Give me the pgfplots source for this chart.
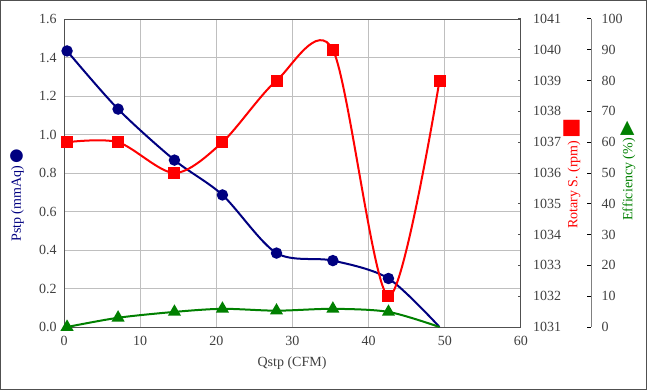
\documentclass[border=0pt]{standalone}
\usepackage{fontspec}
\setmainfont{Liberation Serif}
\newfontfamily\sym{DejaVu Sans}
\usepackage{pgfplots}
\pgfplotsset{compat=1.18}
\definecolor{navy}{RGB}{0,0,128}
\definecolor{myred}{RGB}{255,0,0}
\definecolor{mygreen}{RGB}{0,128,0}
\definecolor{txt}{RGB}{64,64,64}
\definecolor{gridc}{RGB}{191,191,191}
\definecolor{axc}{RGB}{80,80,80}
\definecolor{axc2}{RGB}{128,128,128}
\pgfplotsset{
  base/.style={
    at={(48pt,47.25pt)}, anchor=south west, scale only axis,
    height=231pt,
    tick label style={font=\fontsize{10.5}{12}\selectfont, text=txt},
    /pgf/number format/assume math mode=true,
    /pgf/number format/1000 sep={},
    clip=false,
  }
}
\begin{document}
\begin{tikzpicture}
\useasboundingbox (0,0) rectangle (485.25pt,292.5pt);
\draw[axc, line width=0.75pt] (0.375pt,0.375pt) rectangle (484.875pt,292.125pt);

\begin{axis}[base, width=342.75pt,
  xmin=0, xmax=60, ymin=0, ymax=1.6,
  xtick={0,10,20,30,40,50,60},
  ytick={0,0.2,0.4,0.6,0.8,1.0,1.2,1.4,1.6},
  grid=major, major grid style={gridc, line width=0.75pt},
  axis line style={axc, line width=0.75pt},
  major tick length=0pt,
  yticklabel style={/pgf/number format/fixed, /pgf/number format/fixed zerofill, /pgf/number format/precision=1, xshift=-2pt},
  xticklabel style={yshift=-3.5pt},
]
\addplot[navy, line width=1.5pt, smooth, tension=0.5, mark=*, mark size=3.5pt, mark indices={1,2,3,4,5,6,7}, mark options={solid, fill=navy, draw=navy}]
coordinates {(0.4,1.434) (7.1,1.132) (14.5,0.867) (20.8,0.686) (27.9,0.384) (35.3,0.345) (42.6,0.252) (49.3,0.0)};
\end{axis}

\begin{axis}[base, width=342.75pt,
  xmin=0, xmax=60, ymin=1031, ymax=1041,
  axis x line=none, axis y line*=right,
  ytick={1031,1032,1033,1034,1035,1036,1037,1038,1039,1040,1041},
  axis line style={axc, line width=0.75pt},
  tick style={axc, line width=0.75pt},
  tick align=inside, major tick length=2.5pt,
  yticklabel style={xshift=5.5pt},
]
\addplot[myred, line width=1.5pt, smooth, tension=0.5, mark=square*, mark size=3.75pt, mark options={solid, fill=myred, draw=myred}]
coordinates {(0.4,1037) (7.1,1037) (14.5,1036) (20.8,1037) (27.9,1039) (35.3,1040) (42.6,1032) (49.3,1039)};
\end{axis}

\begin{axis}[base, width=395.25pt,
  xmin=0, xmax=69.19, ymin=0, ymax=100,
  axis x line=none, axis y line*=right,
  ytick={0,10,20,30,40,50,60,70,80,90,100},
  axis line style={axc2, line width=0.75pt},
  tick style={black, line width=0.75pt},
  tick align=inside, major tick length=3pt,
  yticklabel style={xshift=4.5pt},
]
\addplot[mygreen, line width=1.5pt, smooth, tension=0.5, mark=triangle*, mark size=4.2pt, mark indices={1,2,3,4,5,6,7}, mark options={solid, fill=mygreen, draw=mygreen}]
coordinates {(0.4,0) (7.1,3.0) (14.5,4.9) (20.8,5.9) (27.9,5.3) (35.3,5.9) (42.6,4.9) (49.3,0)};
\end{axis}

\node[rotate=90, text=navy, font=\fontsize{10.5}{12}\selectfont, inner sep=0pt] at (12.75pt,146pt) {Pstp (mmAq)\,{\sym\fontsize{12.5}{13}\selectfont ●}};
\node[rotate=90, text=myred, font=\fontsize{10.5}{12}\selectfont, inner sep=0pt] at (429pt,162.4pt) {Rotary S. (rpm)\,{\sym\fontsize{16}{16}\selectfont ■}};
\node[rotate=90, text=mygreen, font=\fontsize{10.5}{12}\selectfont, inner sep=0pt] at (471pt,164.25pt) {Efficiency (\%)\,{\sym\fontsize{14}{14}\selectfont ▶}};
\node[text=txt, font=\fontsize{10.5}{12}\selectfont, anchor=base] at (219pt,18pt) {Qstp (CFM)};
\end{tikzpicture}
\end{document}
